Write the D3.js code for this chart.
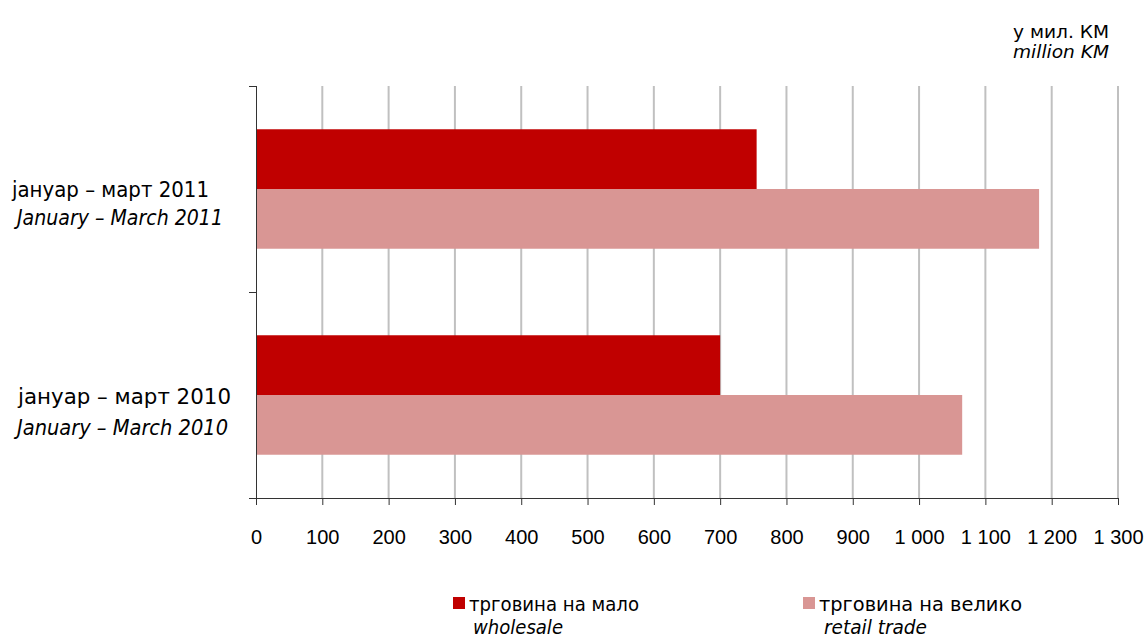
<!DOCTYPE html>
<html><head><meta charset="utf-8">
<script src="https://cdn.jsdelivr.net/npm/d3@7"></script>
<style>body{margin:0;background:#fff}svg{font-family:"DejaVu Sans Condensed","DejaVu Sans",Verdana,sans-serif;font-stretch:condensed}</style>
</head><body><svg id="c" width="1147" height="638"></svg>
<script>
const categories = ["2011", "2010"];
const categoryLabels = ["јануар – март 2011", "јануар –  март  2010"];
const categoryLabelsEn = ["January – March 2011", "January – March 2010"];
const seriesNames = ["трговина на мало", "трговина на велико"];
const seriesNamesEn = ["wholesale", "retail trade"];
const retailSmall = [755, 700];    // трговина на мало
const wholesaleBig = [1181, 1065]; // трговина на велико
const xTicks = [0,100,200,300,400,500,600,700,800,900,1000,1100,1200,1300];
const colors = ["#C00000", "#D99694"];

const svg = d3.select("#c");
const x = d3.scaleLinear().domain([0,1300]).range([256,1118]);
const y = d3.scaleBand().domain(categories).range([86,498]).paddingInner(0.42).paddingOuter(0.21);
const fmt = v => d3.format(",")(v).replace(/,/g, " ");

// gridlines
svg.append("g").selectAll("line").data(xTicks.slice(1)).join("line")
  .attr("x1", d=>x(d)).attr("x2", d=>x(d)).attr("y1", 86).attr("y2", 498)
  .attr("stroke", "#c0c0c0").attr("stroke-width", 2);

// bars
const series = [retailSmall, wholesaleBig];
series.forEach((vals, si) => {
  svg.append("g").selectAll("rect").data(categories).join("rect")
    .attr("x", x(0))
    .attr("y", (c)=> y(c) + si*y.bandwidth()/2)
    .attr("width", (c,i)=> x(vals[i]) - x(0))
    .attr("height", y.bandwidth()/2)
    .attr("fill", colors[si]);
});

// x axis
const xa = svg.append("g").attr("transform","translate(0,498)")
  .call(d3.axisBottom(x).tickValues(xTicks).tickFormat(fmt).tickSize(7).tickPadding(25));
xa.select(".domain").attr("stroke","#333").attr("d","M249,0.5H1118");
xa.selectAll(".tick line").attr("stroke","#333");
xa.selectAll("text").attr("font-size",20).attr("fill","#000")
  .attr("font-family",null);

// y axis
svg.append("line").attr("x1",256.5).attr("x2",256.5).attr("y1",86).attr("y2",498).attr("stroke","#333");
[86,292,498].forEach(v=>svg.append("line").attr("x1",249).attr("x2",256).attr("y1",v+0.5).attr("y2",v+0.5).attr("stroke","#333"));

// category labels
const labPos = [{x1:12,y1:197,x2:17,y2:225,w1:197,w2:206},{x1:18,y1:404,x2:17,y2:435,w1:213,w2:211}];
categories.forEach((c,i)=>{
  svg.append("text").attr("x",labPos[i].x1).attr("y",labPos[i].y1).attr("font-size",21)
    .attr("textLength",labPos[i].w1).attr("lengthAdjust","spacingAndGlyphs").text(categoryLabels[i]);
  svg.append("text").attr("x",labPos[i].x2).attr("y",labPos[i].y2).attr("font-size",21).attr("font-style","italic")
    .attr("textLength",labPos[i].w2).attr("lengthAdjust","spacingAndGlyphs").text(categoryLabelsEn[i]);
});

// unit
svg.append("text").attr("x",1013).attr("y",38).attr("font-size",18)
  .attr("textLength",96).attr("lengthAdjust","spacingAndGlyphs").text("у мил. КМ");
svg.append("text").attr("x",1013).attr("y",58).attr("font-size",18).attr("font-style","italic")
  .attr("textLength",96).attr("lengthAdjust","spacingAndGlyphs").text("million KM");

// legend
const leg = [{sx:453,tx:469,tw:170,ex:473,ew:90},{sx:803,tx:819,tw:203,ex:824,ew:103}];
seriesNames.forEach((n,i)=>{
  svg.append("rect").attr("x",leg[i].sx).attr("y",597).attr("width",12).attr("height",12).attr("fill",colors[i]);
  svg.append("text").attr("x",leg[i].tx).attr("y",611).attr("font-size",19)
    .attr("textLength",leg[i].tw).attr("lengthAdjust","spacingAndGlyphs").text(n);
  svg.append("text").attr("x",leg[i].ex).attr("y",634).attr("font-size",19).attr("font-style","italic")
    .attr("textLength",leg[i].ew).attr("lengthAdjust","spacingAndGlyphs").text(seriesNamesEn[i]);
});
</script></body></html>
